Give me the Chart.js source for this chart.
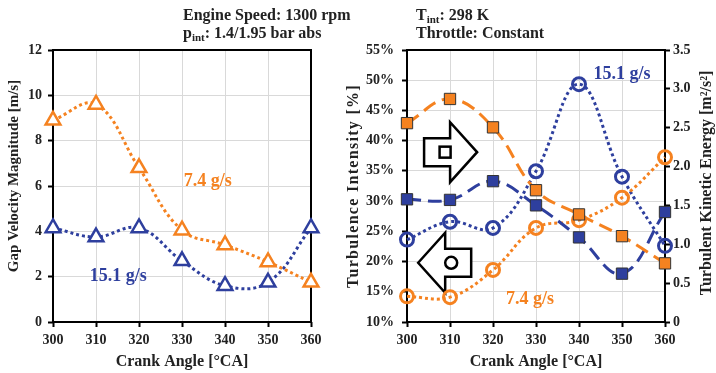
<!DOCTYPE html>
<html>
<head>
<meta charset="utf-8">
<script src="https://cdn.jsdelivr.net/npm/chart.js@4.4.1/dist/chart.umd.min.js"></script>
<style>
  body { margin: 0; background: #fff; }
  #wrap { position: relative; width: 716px; height: 373px; overflow: hidden; }
  .panel { position: absolute; top: 0; }
  .hdr {
    position: absolute; font: bold 16px "Liberation Serif", serif; line-height: 18px;
    color: #222; white-space: nowrap;
  }
  .hdr sub { font-size: 11px; vertical-align: -3px; line-height: 0; }
</style>
</head>
<body>
<div id="wrap">
  <canvas id="left" class="panel" width="345" height="373" style="left:0"></canvas>
  <canvas id="right" class="panel" width="371" height="373" style="left:345px"></canvas>
  <div class="hdr" style="left:183px;top:6px">Engine Speed: 1300 rpm<br>p<sub>int</sub>: 1.4/1.95 bar abs</div>
  <div class="hdr" style="left:416px;top:6px">T<sub>int</sub>: 298 K<br>Throttle: Constant</div>
</div>
<script>
// valeurs
const crankAngle = [300, 310, 320, 330, 340, 350, 360];
const gapVel74 = [8.9, 9.6, 6.8, 4.05, 3.4, 2.65, 1.75];
const gapVel151 = [4.15, 3.75, 4.15, 2.7, 1.6, 1.75, 4.15];
const ti74 = [42.9, 46.9, 42.2, 31.8, 27.8, 24.2, 19.7];
const ti151 = [30.3, 30.2, 33.3, 29.3, 24.0, 18.0, 28.2];
const tke74 = [0.33, 0.32, 0.67, 1.21, 1.31, 1.60, 2.12];
const tke151 = [1.06, 1.29, 1.21, 1.94, 3.06, 1.87, 0.98];
const gapTicks = [0, 2, 4, 6, 8, 10, 12];
const tiTicks = [10, 15, 20, 25, 30, 35, 40, 45, 50, 55];
const tkeTicks = [0, 0.5, 1, 1.5, 2, 2.5, 3, 3.5];

const ORANGE = '#F58220';
const BLUE = '#2E3F9E';
const SERIF = '"Liberation Serif", "Times New Roman", serif';

Chart.defaults.font.family = SERIF;
Chart.defaults.font.weight = 'bold';
Chart.defaults.color = '#222';

const pts = (ys) => crankAngle.map((x, i) => ({ x: x, y: ys[i] }));

function vText(ctx, text, x, y, size, spacing) {
  ctx.save();
  ctx.font = 'bold ' + size + 'px ' + SERIF;
  if (spacing) ctx.letterSpacing = spacing + 'px';
  ctx.fillStyle = '#222';
  ctx.textAlign = 'center';
  ctx.textBaseline = 'middle';
  ctx.translate(x, y);
  ctx.rotate(-Math.PI / 2);
  ctx.fillText(text, 0, 0);
  ctx.restore();
}

// cadre noir autour de la zone de tracé + textes / flèches
const boxPlugin = {
  id: 'box',
  beforeDatasetsDraw(chart) {
    const a = chart.chartArea, ctx = chart.ctx;
    ctx.save();
    ctx.strokeStyle = '#000';
    ctx.lineWidth = 2;
    ctx.strokeRect(a.left, a.top, a.right - a.left, a.bottom - a.top);
    ctx.restore();
    const arrows = chart.options.plugins.box.arrows || [];
    arrows.forEach(ar => drawArrow(chart, ar));
  },
  afterDatasetsDraw(chart) {
    const ctx = chart.ctx;
    const opts = chart.options.plugins.box;
    ctx.save();
    ctx.font = 'bold 18px ' + SERIF;
    ctx.textAlign = 'center';
    ctx.textBaseline = 'middle';
    (opts.labels || []).forEach(l => {
      ctx.fillStyle = l.color;
      ctx.fillText(l.text, chart.scales.x.getPixelForValue(l.x), chart.scales[l.axis || 'y'].getPixelForValue(l.y));
    });
    ctx.restore();
    const a = chart.chartArea;
    if (opts.leftTitle) vText(ctx, opts.leftTitle.text, opts.leftTitle.x, opts.leftTitle.y, opts.leftTitle.size, opts.leftTitle.spacing);
    if (opts.rightTitle) vText(ctx, opts.rightTitle, chart.width - 9, (a.top + a.bottom) / 2 - 3, 16);
  }
};

function drawArrow(chart, ar) {
  const ctx = chart.ctx;
  const tx = chart.scales.x.getPixelForValue(ar.x);
  const ty = chart.scales.y.getPixelForValue(ar.y);
  const d = ar.dir; // 1 = vers la droite, -1 = vers la gauche
  const head = 27, len = 53, hh = 30, sh = 14;
  ctx.save();
  ctx.beginPath();
  ctx.moveTo(tx, ty);
  ctx.lineTo(tx - d * head, ty - hh);
  ctx.lineTo(tx - d * head, ty - sh);
  ctx.lineTo(tx - d * len, ty - sh);
  ctx.lineTo(tx - d * len, ty + sh);
  ctx.lineTo(tx - d * head, ty + sh);
  ctx.lineTo(tx - d * head, ty + hh);
  ctx.closePath();
  ctx.fillStyle = '#fff';
  ctx.fill();
  ctx.strokeStyle = '#000';
  ctx.lineWidth = 2.5;
  ctx.lineJoin = 'miter';
  ctx.stroke();
  const cx = tx - d * (d > 0 ? 32 : 33);
  if (ar.symbol === 'square') {
    ctx.strokeRect(cx - 5.5, ty - 5.5, 11, 11);
  } else {
    ctx.beginPath();
    ctx.arc(cx, ty, 6, 0, Math.PI * 2);
    ctx.stroke();
  }
  ctx.restore();
}

function xAxis() {
  return {
    type: 'linear', min: 300, max: 360,
    afterFit: s => { s.height = 51; },
    afterBuildTicks: s => { s.ticks = crankAngle.map(v => ({ value: v })); },
    grid: { color: '#d9d9d9', lineWidth: 1, tickColor: '#000', tickWidth: 2, tickLength: 5 },
    border: { display: false },
    ticks: { font: { size: 14 }, padding: 5, maxRotation: 0 },
    title: { display: true, text: 'Crank Angle [°CA]', font: { size: 16 }, padding: { top: 0, bottom: 2 } }
  };
}

function ds(data, color, style, yAxisID) {
  const base = {
    type: 'line', data: pts(data), borderColor: color, borderWidth: 3,
    tension: 0.4, clip: false, yAxisID: yAxisID || 'y',
    pointBorderColor: color, pointBorderWidth: 2.5, pointHoverRadius: 8
  };
  if (style === 'tri') {
    return Object.assign(base, { borderDash: [3, 3], pointStyle: 'triangle', pointRadius: 8.5, pointBackgroundColor: '#fff' });
  }
  if (style === 'circ') {
    return Object.assign(base, { borderDash: [3, 3], pointStyle: 'circle', pointRadius: 6.5, pointBorderWidth: 3, pointBackgroundColor: 'rgba(255,255,255,0)' });
  }
  return Object.assign(base, { borderDash: [14, 7], pointStyle: 'rect', pointRadius: 8, pointBorderColor: '#333', pointBorderWidth: 1, pointBackgroundColor: color });
}

new Chart(document.getElementById('left'), {
  type: 'line',
  data: { datasets: [ds(gapVel74, ORANGE, 'tri'), ds(gapVel151, BLUE, 'tri')] },
  options: {
    responsive: false, animation: false,
    layout: { padding: { top: 50, right: 34, left: 0, bottom: 0 } },
    plugins: {
      legend: { display: false }, tooltip: { enabled: false },
      box: {
        labels: [
          { text: '7.4 g/s', x: 336, y: 6.2, color: ORANGE },
          { text: '15.1 g/s', x: 315.2, y: 2.0, color: BLUE }
        ],
        leftTitle: { text: 'Gap Velocity Magnitude [m/s]', x: 14, y: 176, size: 15 }
      }
    },
    scales: {
      x: xAxis(),
      y: {
        min: 0, max: 12,
        afterFit: s => { s.width = 53; },
        afterBuildTicks: s => { s.ticks = gapTicks.map(v => ({ value: v })); },
        grid: { color: '#d9d9d9', lineWidth: 1, tickColor: '#000', tickWidth: 2, tickLength: 5 },
        border: { display: false },
        ticks: { font: { size: 14 }, padding: 6 }
      }
    }
  },
  plugins: [boxPlugin]
});

new Chart(document.getElementById('right'), {
  type: 'line',
  data: {
    datasets: [
      ds(ti74, ORANGE, 'sq'), ds(ti151, BLUE, 'sq'),
      ds(tke74, ORANGE, 'circ', 'y1'), ds(tke151, BLUE, 'circ', 'y1')
    ]
  },
  options: {
    responsive: false, animation: false,
    layout: { padding: { top: 50, right: 0, left: 0, bottom: 0 } },
    plugins: {
      legend: { display: false }, tooltip: { enabled: false },
      box: {
        labels: [
          { text: '15.1 g/s', x: 350, y: 51.0, color: BLUE },
          { text: '7.4 g/s', x: 328.6, y: 13.8, color: ORANGE }
        ],
        arrows: [
          { x: 316.3, y: 38.1, dir: 1, symbol: 'square' },
          { x: 302.6, y: 19.8, dir: -1, symbol: 'circle' }
        ],
        leftTitle: { text: 'Turbulence Intensity [%]', x: 8.5, y: 186, size: 16, spacing: 1.3 },
        rightTitle: 'Turbulent Kinetic Energy [m²/s²]'
      }
    },
    scales: {
      x: xAxis(),
      y: {
        min: 10, max: 55, position: 'left',
        afterFit: s => { s.width = 62; },
        afterBuildTicks: s => { s.ticks = tiTicks.map(v => ({ value: v })); },
        grid: { color: '#d9d9d9', lineWidth: 1, tickColor: '#000', tickWidth: 2, tickLength: 5 },
        border: { display: false },
        ticks: { font: { size: 14 }, padding: 8, callback: v => v + '%' }
      },
      y1: {
        min: 0, max: 3.5, position: 'right',
        afterFit: s => { s.width = 51; },
        afterBuildTicks: s => { s.ticks = tkeTicks.map(v => ({ value: v })); },
        grid: { drawOnChartArea: false, tickColor: '#000', tickWidth: 2, tickLength: 5 },
        border: { display: false },
        ticks: { font: { size: 14 }, padding: 3 }
      }
    }
  },
  plugins: [boxPlugin]
});
</script>
</body>
</html>
